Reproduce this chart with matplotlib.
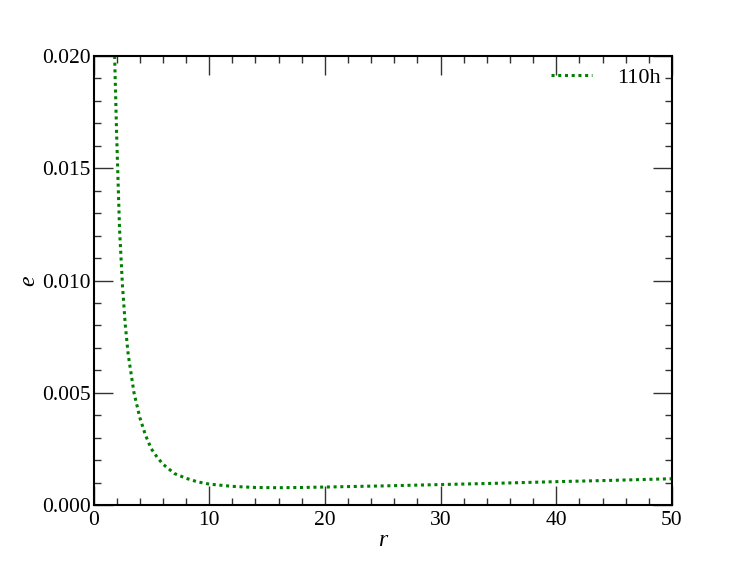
import matplotlib
matplotlib.use("Agg")
import matplotlib.pyplot as plt
from matplotlib.ticker import MultipleLocator

r = [1.75, 1.9, 2.0, 2.25, 2.5, 2.75, 3.0, 3.5, 4.0, 4.5, 5.0, 5.5, 6.0, 7.0,
     8.0, 9.0, 10, 12, 14, 16, 18, 20, 25, 30, 35, 40, 45, 50]
e = [0.0215, 0.0185, 0.0165, 0.0123, 0.0098, 0.0080, 0.0067, 0.0050, 0.0039,
     0.0031, 0.0025, 0.00213, 0.00182, 0.00140, 0.00119, 0.00103, 0.00093,
     0.00083, 0.00078, 0.00077, 0.00078, 0.00080, 0.00085, 0.00091, 0.00097,
     0.00104, 0.00110, 0.00117]
series_label = "110h"

plt.rcParams["font.family"] = ["Liberation Serif", "DejaVu Serif"]

fig = plt.figure(figsize=(7.47, 5.61), dpi=100)
ax = fig.add_axes([93.5 / 747, 1 - 505 / 561, (672 - 93.5) / 747, (505 - 56) / 561])

ax.plot(r, e, color="#008000", lw=2.2, linestyle=(0, (1, 1.2)), label=series_label)

ax.set_xlim(0, 50)
ax.set_ylim(0, 0.02)
ax.xaxis.set_major_locator(MultipleLocator(10))
ax.xaxis.set_minor_locator(MultipleLocator(2))
ax.yaxis.set_major_locator(MultipleLocator(0.005))
ax.yaxis.set_minor_locator(MultipleLocator(0.001))
ax.yaxis.set_major_formatter(plt.FuncFormatter(lambda v, p: f"{v:.3f}"))

ax.tick_params(which="both", direction="in", top=True, right=True,
               labelsize=15.5, color="#333333", width=1.0)
ax.tick_params(which="major", length=13.5)
ax.tick_params(which="minor", length=5)
ax.tick_params(axis="x", which="major", pad=4)
ax.tick_params(axis="y", which="major", pad=2)
for s in ax.spines.values():
    s.set_linewidth(1.5)

ax.set_xlabel("r", fontsize=17, style="italic", labelpad=0)
ax.set_ylabel("e", fontsize=17, style="italic", labelpad=2)

ax.legend(loc="upper right", frameon=False, fontsize=16, handlelength=1.85,
          handletextpad=1.15, borderaxespad=0.1)

fig.savefig("out.png", dpi=100)
